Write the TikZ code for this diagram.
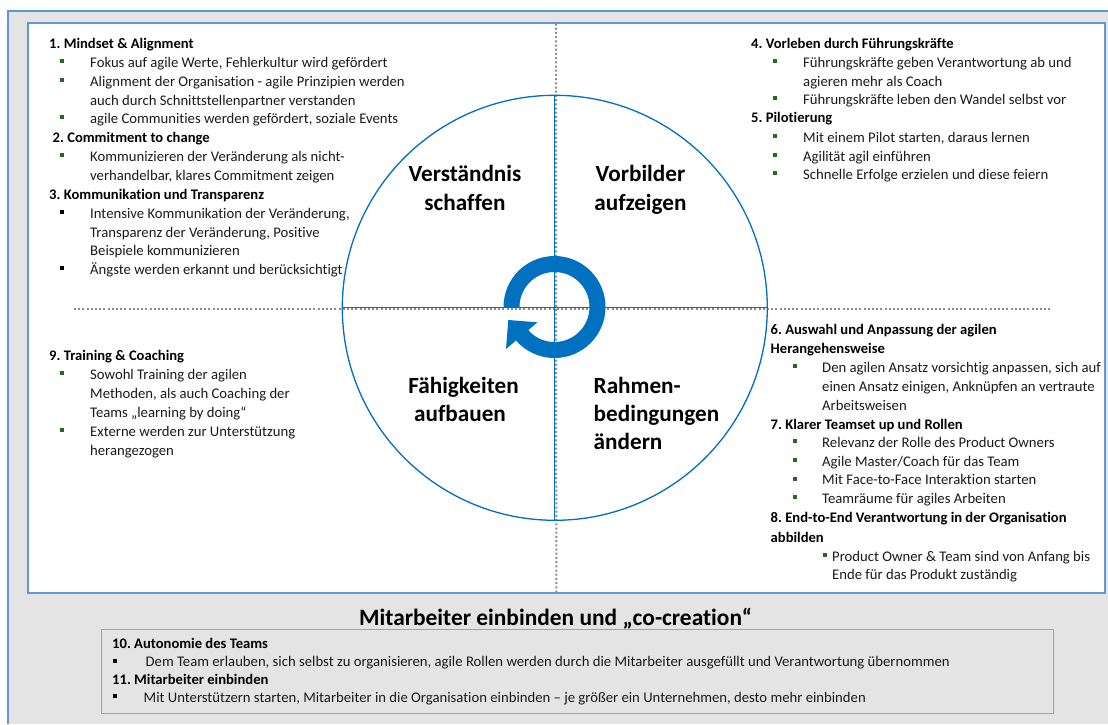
\documentclass[tikz,border=0pt]{standalone}
\usepackage{fontspec}
\setmainfont[Ligatures=NoCommon]{Carlito}
\definecolor{frameblue}{HTML}{5B9BD5}
\definecolor{boxblue}{HTML}{7FAAD8}
\definecolor{ringblue}{HTML}{0070C0}
\definecolor{panel}{HTML}{E4E4E4}
\definecolor{bulgreen}{HTML}{1F6B1F}
\definecolor{ink}{HTML}{1A1A1A}
\definecolor{dotgray}{HTML}{8C8C8C}
\newcounter{tln}
\newcommand{\mkname}{\stepcounter{tln}}
\newcommand{\Tn}[3]{\mkname\node[bodytxt] (n\arabic{tln}) at (#1,#2) {#3};}
\newcommand{\Tb}[3]{\mkname\node[headtxt] (n\arabic{tln}) at (#1,#2) {#3};}
\newcommand{\Bg}[2]{\mkname\node[bullet square,fill=bulgreen] (n\arabic{tln}) at (#1,#2) {};}
\newcommand{\Bk}[2]{\mkname\node[bullet square,fill=black] (n\arabic{tln}) at (#1,#2) {};}
\tikzset{
  bodytxt/.style={anchor=base west,inner sep=0pt,yshift=-1pt,font=\fontsize{14.7}{17}\selectfont\frenchspacing,text=ink},
  headtxt/.style={anchor=base west,inner sep=0pt,yshift=-1pt,font=\fontsize{14.6}{17}\selectfont\bfseries\frenchspacing,text=black},
  bullet square/.style={rectangle,draw=none,minimum size=4pt,inner sep=0pt},
  quadtxt/.style={anchor=base,inner sep=0pt,yshift=-1pt,font=\fontsize{23.2}{27}\selectfont\bfseries,text=black},
  quadleft/.style={quadtxt,anchor=base west},
  titletxt/.style={anchor=base,inner sep=0pt,font=\fontsize{23.4}{27}\selectfont\bfseries,text=black},
  dotline/.style={draw=dotgray,line width=2pt,dash pattern=on 2pt off 2.2pt},
  crossline/.style={draw=ringblue,line width=1.3pt},
}
\begin{document}
\begin{tikzpicture}[x=1pt,y=-1pt]
\useasboundingbox (0,0) rectangle (1108,724);
\fill[white] (0,0) rectangle (1108,724);
\path[fill=panel] (8,11) rectangle (1108,724);
\draw[frameblue,line width=1.8pt] (1108,11) -- (8,11) -- (8,724);
\path[fill=white] (27.5,22.5) rectangle (1105,592.5);
\draw[frameblue,line width=2pt] (27.5,22.5) rectangle (1105,592.5);
% cross
\coordinate (dt) at (556,23.5);
\coordinate (db) at (556.3,592);
\coordinate (dl) at (74,309);
\coordinate (dr) at (1050,309);
\coordinate (ct) at (554.5,96);
\coordinate (cb) at (554.5,519.5);
\coordinate (cl) at (342,307.3);
\coordinate (cr) at (767.5,307.3);
\draw[dotline] (dt) -- (db);
\draw[dotline] (dl) -- (dr);
\draw[crossline] (ct) -- (cb);
\draw[crossline] (cl) -- (cr);
\node[circle,draw=ringblue,line width=1.3pt,minimum size=425pt,inner sep=0pt] (circ) at (554.8,307.8) {};
% ring with head
\begin{scope}[shift={(554.5,307)},x=1pt,y=1pt]
\fill[ringblue] (180:51) arc[start angle=180,end angle=-139,radius=51]
  -- (-48.5,-42) -- (-46.2,-13) -- (-17.2,-15.3) -- (221.5:35)
  arc[start angle=-138.5,end angle=180,radius=35] -- cycle;
\end{scope}
% quadrant labels
\node[quadtxt] (q1a) at (465,180) {Verständnis};
\node[quadtxt] (q1b) at (465,209) {schaffen};
\node[quadtxt] (q2a) at (640.5,180) {Vorbilder};
\node[quadtxt] (q2b) at (640.5,209) {aufzeigen};
\node[quadtxt] (q3a) at (463.5,392) {Fähigkeiten};
\node[quadtxt] (q3b) at (460,420) {aufbauen};
\node[quadleft] (q4a) at (593.5,392) {Rahmen-};
\node[quadleft] (q4b) at (593.5,420) {bedingungen};
\node[quadleft] (q4c) at (593.5,448) {ändern};
% block 1-3
\Tb{49}{47}{1. Mindset \& Alignment}
\Bg{62}{60.5}\Tn{90}{66}{Fokus auf agile Werte, Fehlerkultur wird gefördert}
\Bg{62}{79.5}\Tn{90}{85}{Alignment der Organisation - agile Prinzipien werden}
\Tn{90}{104}{auch durch Schnittstellenpartner verstanden}
\Bg{62}{117}\Tn{90}{122}{agile Communities werden gefördert, soziale Events}
\Tb{52.5}{141}{2. Commitment to change}
\Bg{62}{154.5}\Tn{90}{160}{Kommunizieren der Veränderung als nicht-}
\Tn{90}{179}{verhandelbar, klares Commitment zeigen}
\Tb{49}{198}{3. Kommunikation und Transparenz}
\Bk{62}{211.5}\Tn{90}{217}{Intensive Kommunikation der Veränderung,}
\Tn{90}{236}{Transparenz der Veränderung, Positive}
\Tn{90}{254}{Beispiele kommunizieren}
\Bk{62}{267.5}\Tn{90}{273}{Ängste werden erkannt und berücksichtigt}
% block 4-5
\Tb{751}{47}{4. Vorleben durch Führungskräfte}
\Bg{775}{61}\Tn{803}{66}{Führungskräfte geben Verantwortung ab und}
\Tn{803}{85}{agieren mehr als Coach}
\Bg{775}{98}\Tn{803}{103}{Führungskräfte leben den Wandel selbst vor}
\Tb{751}{121}{5. Pilotierung}
\Bg{775}{136}\Tn{803}{141}{Mit einem Pilot starten, daraus lernen}
\Bg{775}{155}\Tn{803}{160}{Agilität agil einführen}
\Bg{775}{173}\Tn{803}{178}{Schnelle Erfolge erzielen und diese feiern}
% block 9
\Tb{49}{359}{9. Training \& Coaching}
\Bg{62}{373}\Tn{90}{378}{Sowohl Training der agilen}
\Tn{90}{397}{Methoden, als auch Coaching der}
\Tn{90}{416}{Teams „learning by doing“}
\Bg{62}{430}\Tn{90}{435}{Externe werden zur Unterstützung}
\Tn{90}{454}{herangezogen}
% block 6-8
\Tb{770.5}{333}{6. Auswahl und Anpassung der agilen}
\Tb{770.5}{352}{Herangehensweise}
\Bg{794.5}{366}\Tn{822}{371}{Den agilen Ansatz vorsichtig anpassen, sich auf}
\Tn{822}{390}{einen Ansatz einigen, Anknüpfen an vertraute}
\Tn{822}{409}{Arbeitsweisen}
\Tb{770.5}{428}{7. Klarer Teamset up und Rollen}
\Bg{794.5}{441}\Tn{822}{446}{Relevanz der Rolle des Product Owners}
\Bg{794.5}{459.5}\Tn{822}{465}{Agile Master/Coach für das Team}
\Bg{794.5}{478.5}\Tn{822}{483}{Mit Face-to-Face Interaktion starten}
\Bg{794.5}{497}\Tn{822}{502}{Teamräume für agiles Arbeiten}
\Tb{770.5}{521}{8. End-to-End Verantwortung in der Organisation}
\Tb{770.5}{541}{abbilden}
\Bg{825}{555}\Tn{832}{560}{Product Owner \& Team sind von Anfang bis}
\Tn{832}{578}{Ende für das Produkt zuständig}
% bottom
\node[titletxt] (title) at (555.5,625) {Mitarbeiter einbinden und „co-creation“};
\node[rectangle,draw=boxblue,line width=1pt,minimum width=952pt,minimum height=84pt,inner sep=0pt] (bbox) at (577,671) {};
\Tb{112}{647}{10. Autonomie des Teams}
\Bk{115}{660.5}\Tn{145.5}{665.5}{Dem Team erlauben, sich selbst zu organisieren, agile Rollen werden durch  die Mitarbeiter ausgefüllt und Verantwortung übernommen}
\Tb{112}{683.5}{11. Mitarbeiter einbinden}
\Bk{115}{696}\Tn{143.5}{701.5}{Mit Unterstützern starten, Mitarbeiter in die Organisation einbinden – je größer ein Unternehmen, desto mehr einbinden}
\end{tikzpicture}
\end{document}
